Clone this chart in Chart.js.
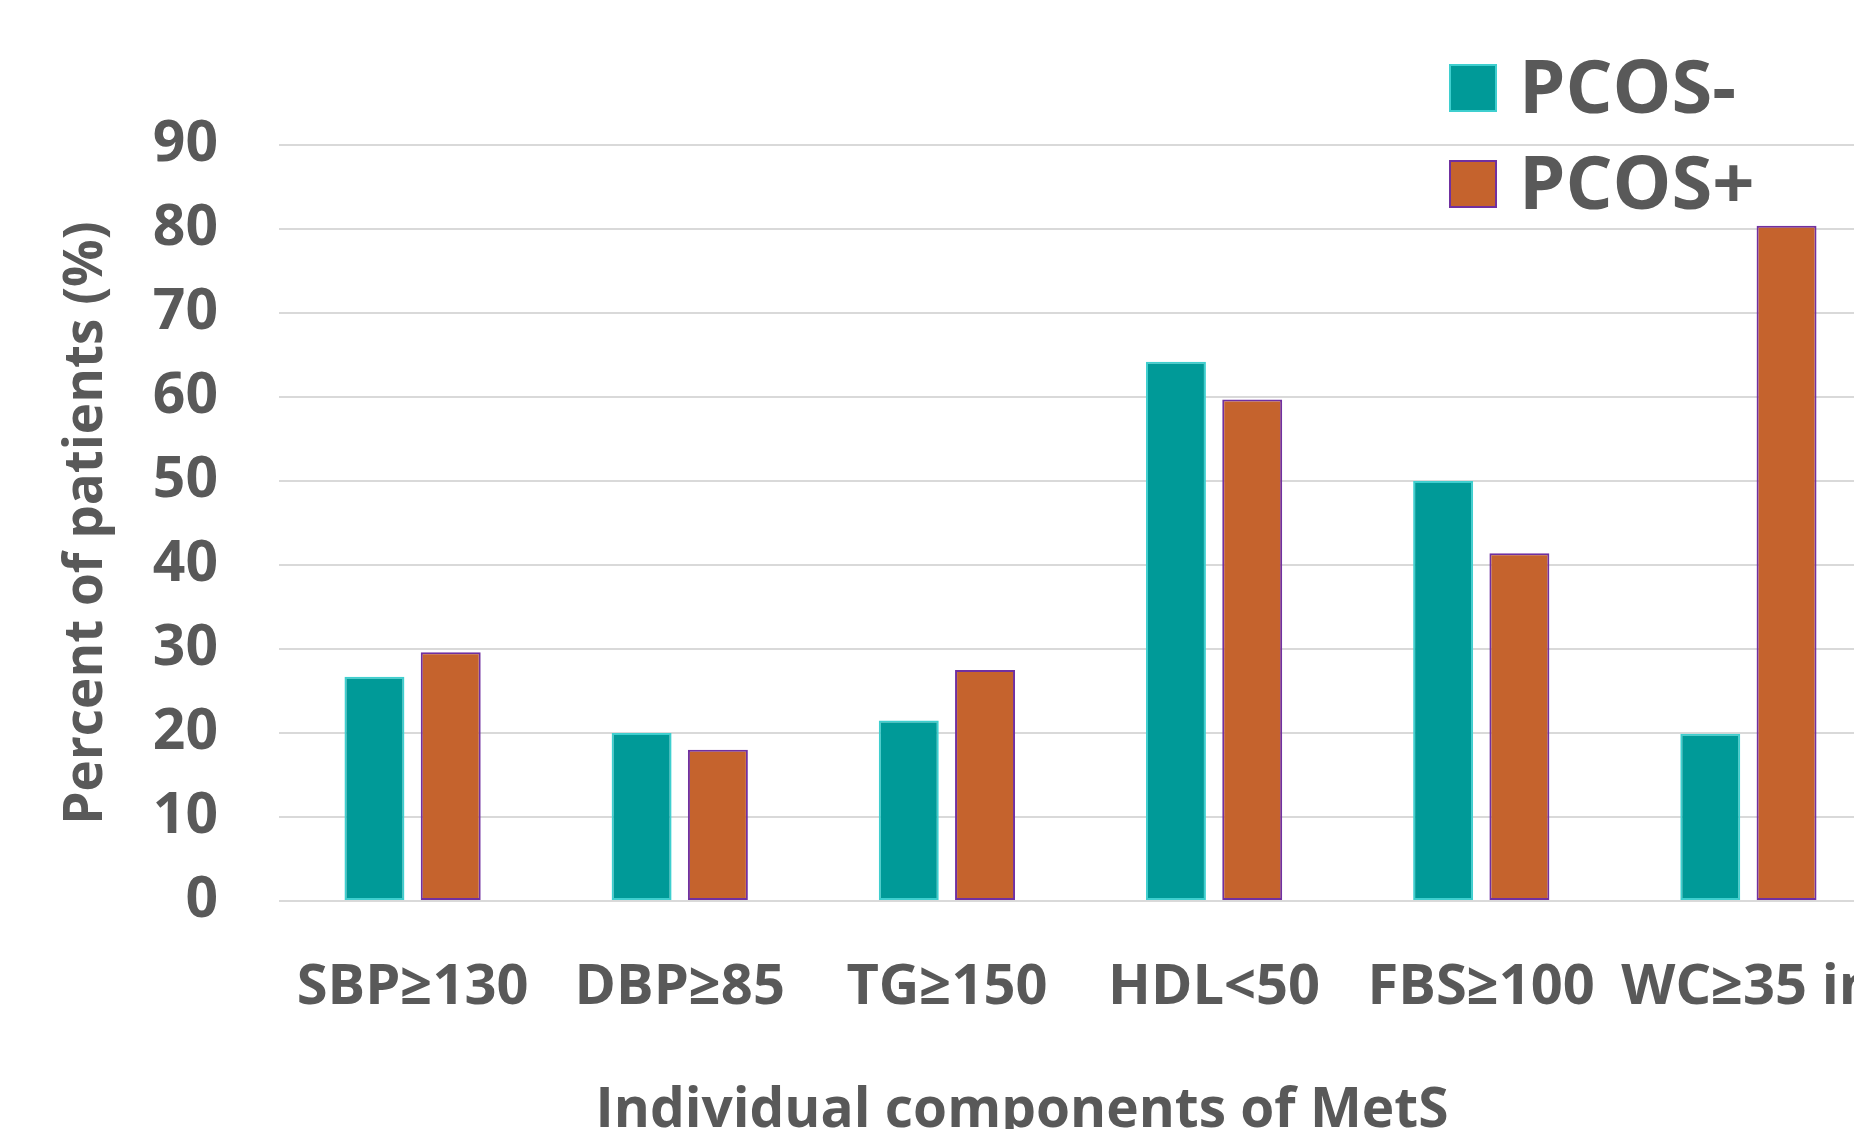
<!DOCTYPE html>
<html><head><meta charset="utf-8">
<script src="https://cdn.jsdelivr.net/npm/chart.js@4.4.1/dist/chart.umd.min.js"></script>
<style>html,body{margin:0;padding:0;overflow:hidden;background:#fff}#wrap{width:1890px;height:1129px;position:relative}</style>
</head><body>
<div id="wrap"><canvas id="c" width="1890" height="1129" style="display:block;width:1890px;height:1129px"></canvas></div>
<script>
const categories = ['SBP\u2265130', 'DBP\u226585', 'TG\u2265150', 'HDL<50', 'FBS\u2265100', 'WC\u226535 in'];
const pcosNeg = [26.7, 20.0, 21.5, 64.2, 50.0, 19.9];
const pcosPos = [29.6, 18.0, 27.5, 59.7, 41.4, 80.4];
const seriesNames = ['PCOS-', 'PCOS+'];
const yTicks = [0, 10, 20, 30, 40, 50, 60, 70, 80, 90];
const xTitle = 'Individual components of MetS';
const yTitle = 'Percent of patients (%)';

const TEXT = '#595959';
const FONT = "'Open Sans', 'Liberation Sans', sans-serif";

const legendPlugin = {
  id: 'stackedLegend',
  afterDraw(chart) {
    const ctx = chart.ctx, a = chart.chartArea;
    ctx.save();
    chart.data.datasets.forEach((ds, i) => {
      const bx = a.right - 433, by = a.top - 81 + i * 96, s = 48;
      ctx.fillStyle = ds.backgroundColor;
      ctx.fillRect(bx, by, s, s);
      ctx.lineWidth = 2;
      ctx.strokeStyle = ds.borderColor;
      ctx.strokeRect(bx + 1, by + 1, s - 2, s - 2);
      ctx.fillStyle = TEXT;
      ctx.font = "bold 74px " + FONT;
      ctx.textAlign = 'left';
      ctx.textBaseline = 'alphabetic';
      ctx.fillText(ds.label, bx + 70, by + 49);
    });
    ctx.restore();
  }
};

const xTitlePlugin = {
  id: 'xTitle',
  afterDraw(chart) {
    const ctx = chart.ctx, a = chart.chartArea;
    ctx.save();
    ctx.fillStyle = TEXT;
    ctx.font = "bold 55px " + FONT;
    ctx.textAlign = 'center';
    ctx.textBaseline = 'alphabetic';
    ctx.fillText(xTitle, a.left + 0.4635 * (a.right - a.left), a.bottom + 226);
    ctx.restore();
  }
};

new Chart(document.getElementById('c'), {
  type: 'bar',
  data: {
    labels: categories,
    datasets: [
      { label: seriesNames[0], data: pcosNeg, backgroundColor: '#009A98', borderColor: '#3FCFCF', borderWidth: 2, borderSkipped: false },
      { label: seriesNames[1], data: pcosPos, backgroundColor: '#C5632D', borderColor: '#7030A0', borderWidth: 2, borderSkipped: false }
    ]
  },
  options: {
    responsive: false,
    animation: false,
    devicePixelRatio: 1,
    layout: { padding: { left: 0, right: 8, top: 145, bottom: 0 } },
    datasets: { bar: { categoryPercentage: 0.571, barPercentage: 0.786 } },
    plugins: { legend: { display: false }, tooltip: { enabled: false } },
    scales: {
      x: {
        grid: { display: false, drawTicks: false },
        border: { display: false },
        ticks: { color: TEXT, font: { family: FONT, size: 56, weight: 'bold' }, padding: 53, autoSkip: false, maxRotation: 0, minRotation: 0 },
        afterFit(s) { s.height = 228; s.paddingLeft = 0; s.paddingRight = 0; }
      },
      y: {
        min: yTicks[0], max: yTicks[yTicks.length - 1],
        afterBuildTicks(s) { s.ticks = yTicks.map(v => ({ value: v })); },
        grid: { color: '#D9D9D9', lineWidth: 2, drawTicks: false },
        border: { display: false },
        ticks: { color: TEXT, font: { family: FONT, size: 57, weight: 'bold' }, padding: 61 },
        title: { display: true, text: yTitle, color: TEXT, font: { family: FONT, size: 53, weight: 'bold' }, padding: { top: 55, bottom: 0 } },
        afterFit(s) { s.width = 279; s.paddingTop = 0; s.paddingBottom = 0; }
      }
    }
  },
  plugins: [legendPlugin, xTitlePlugin]
});
</script>
</body></html>
